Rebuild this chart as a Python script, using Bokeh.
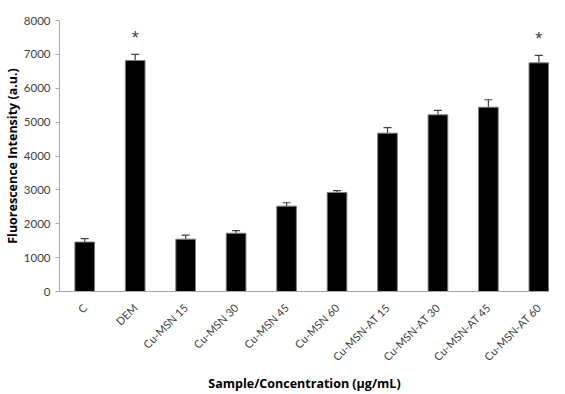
import math
from bokeh.plotting import figure
from bokeh.models import Range1d, FixedTicker, Whisker, TeeHead, ColumnDataSource
from bokeh.embed import file_html
from bokeh.resources import INLINE

categories = ["C", "DEM", "Cu-MSN 15", "Cu-MSN 30", "Cu-MSN 45", "Cu-MSN 60",
              "Cu-MSN-AT 15", "Cu-MSN-AT 30", "Cu-MSN-AT 45", "Cu-MSN-AT 60"]
values = [1460, 6820, 1545, 1720, 2520, 2925, 4675, 5215, 5440, 6750]
errors = [100, 180, 120, 80, 100, 50, 160, 130, 220, 220]
significant = [False, True, False, False, False, False, False, False, False, True]
y_ticks = [0, 1000, 2000, 3000, 4000, 5000, 6000, 7000, 8000]
x_title = "Sample/Concentration (µg/mL)"
y_title = "Fluorescence Intensity (a.u.)"

xs = list(range(len(categories)))
src = ColumnDataSource(dict(
    x=xs, top=values,
    upper=[v + e for v, e in zip(values, errors)],
))

p = figure(width=549, height=394, output_backend="svg", toolbar_location=None,
           x_range=Range1d(-0.5, 9.211), y_range=Range1d(0, 8000),
           min_border_left=59, min_border_right=0, min_border_top=20, min_border_bottom=103)

p.vbar(x="x", top="top", bottom=0, width=0.39, source=src,
       fill_color="black", line_color="#7f7f7f", line_width=1)

w = Whisker(base="x", lower="top", upper="upper", source=src, dimension="height",
            line_color="#404040", line_width=1.2,
            upper_head=TeeHead(size=8, line_color="#404040", line_width=1.2),
            lower_head=None)
p.add_layout(w)

sx = [x for x, s in zip(xs, significant) if s]
sy = [v + e + 200 for v, e, s in zip(values, errors, significant) if s]
p.text(x=sx, y=sy, text=["*"] * len(sx), text_align="center", text_baseline="bottom",
       text_font_size="18px", text_color="#404040")

p.xgrid.visible = False
p.ygrid.visible = False
p.outline_line_color = None

p.yaxis.ticker = FixedTicker(ticks=y_ticks)
p.yaxis.axis_label = y_title
p.yaxis.axis_label_text_font = "Open Sans"
p.yaxis.axis_label_text_font_style = "bold"
p.yaxis.axis_label_text_font_size = "12.5px"
p.yaxis.axis_label_text_color = "black"
p.yaxis.axis_label_standoff = 0
p.yaxis.major_label_standoff = 5
p.yaxis.major_label_text_font = "Lato"
p.yaxis.major_label_text_font_size = "11.5px"
p.yaxis.major_label_text_color = "#404040"
p.yaxis.axis_line_color = "#a6a6a6"
p.yaxis.major_tick_line_color = "#a6a6a6"
p.yaxis.major_tick_in = 0
p.yaxis.major_tick_out = 4
p.yaxis.minor_tick_line_color = None

p.xaxis.ticker = FixedTicker(ticks=xs)
p.xaxis.major_label_overrides = {i: c for i, c in enumerate(categories)}
p.xaxis.major_label_orientation = math.pi / 4
p.xaxis.major_label_text_font = "Lato"
p.xaxis.major_label_text_font_size = "11px"
p.xaxis.major_label_text_color = "#404040"
p.xaxis.major_label_standoff = 8
p.xaxis.axis_line_color = "#a6a6a6"
p.xaxis.major_tick_line_color = None
p.xaxis.minor_tick_line_color = None
p.xaxis.axis_label = x_title
p.xaxis.axis_label_text_font = "Open Sans"
p.xaxis.axis_label_text_font_style = "bold"
p.xaxis.axis_label_text_font_size = "12.5px"
p.xaxis.axis_label_text_color = "black"
p.xaxis.axis_label_standoff = 4

open("out.html", "w").write(file_html(p, INLINE))
